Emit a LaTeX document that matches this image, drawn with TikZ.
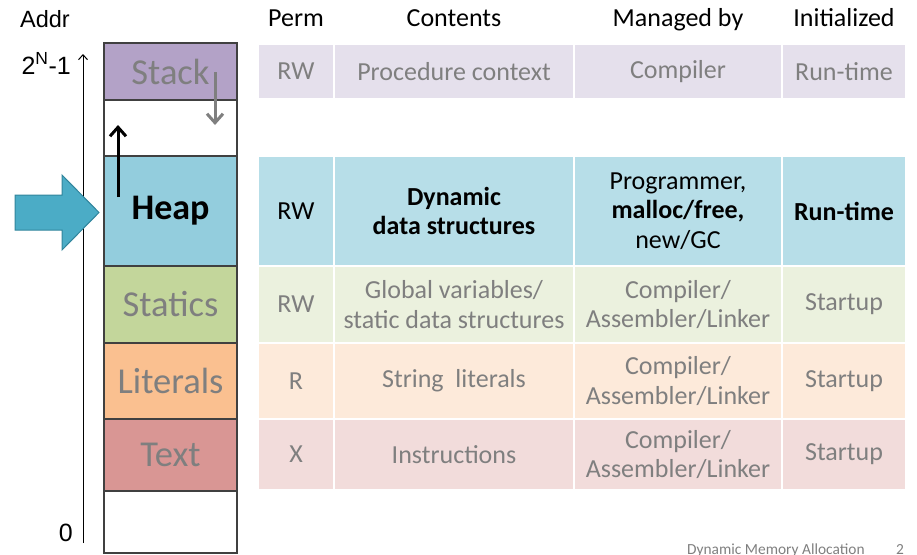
\documentclass[tikz,border=0pt]{standalone}
\usepackage{fontspec}
\setmainfont{Carlito}
\newfontfamily\arialf{Liberation Sans}
\usetikzlibrary{arrows.meta}
\definecolor{stackB}{HTML}{B3A2C7}
\definecolor{stackR}{HTML}{E5E0EC}
\definecolor{heapB}{HTML}{93CDDD}
\definecolor{heapR}{HTML}{B7DEE8}
\definecolor{statB}{HTML}{C3D69B}
\definecolor{statR}{HTML}{EBF1DE}
\definecolor{litB}{HTML}{FAC090}
\definecolor{litR}{HTML}{FDEADA}
\definecolor{textB}{HTML}{D99694}
\definecolor{textR}{HTML}{F2DCDB}
\definecolor{fade}{HTML}{7F7F7F}
\definecolor{bigarrow}{HTML}{4BACC6}
\definecolor{bigarrowD}{HTML}{31859C}
\definecolor{blockline}{HTML}{404040}
\tikzset{
  memblock/.style={draw=blockline, line width=1.5pt, minimum width=133pt, inner sep=0pt, anchor=center, text=fade, font=\fontsize{36.5}{40}\selectfont},
  cell/.style={draw=white, line width=2pt, inner sep=0pt, anchor=center, align=center, text=fade, font=\fontsize{26}{29.5}\selectfont},
  hdr/.style={anchor=base, inner sep=0pt, font=\fontsize{26}{29}\selectfont},
  axislbl/.style={inner sep=0pt, font=\arialf\fontsize{25}{30}\selectfont},
  growarrow/.style={line width=3pt, -{Straight Barb[length=9pt,width=16pt]}},
}
\begin{document}
\begin{tikzpicture}[x=1pt,y=-1pt]
\useasboundingbox (0,0) rectangle (917,554);
\clip (0,0) rectangle (917,554);
% headers
\node[axislbl, anchor=base, font=\arialf\fontsize{23.5}{27}\selectfont] (haddr) at (45,27.5) {Addr};
\node[hdr] (hperm) at (296,27) {Perm};
\node[hdr] (hcont) at (454,27) {Contents};
\node[hdr] (hman) at (678,27) {Managed by};
\node[hdr] (hinit) at (844,27) {Initialized};
% memory column
\node[memblock, fill=stackB, minimum height=57pt] (mstack) at (170.5,71.5) {Stack};
\node[memblock, fill=white, minimum height=56pt] (mgap) at (170.5,128) {};
\node[memblock, fill=heapB, minimum height=110pt, text=black, font=\bfseries\fontsize{36}{40}\selectfont] (mheap) at (170.5,211) {Heap};
\node[memblock, fill=statB, minimum height=77pt] (mstat) at (170.5,304.5) {Statics};
\node[memblock, fill=litB, minimum height=76pt] (mlit) at (170.5,381) {Literals};
\node[memblock, fill=textB, minimum height=72pt] (mtext) at (170.5,455) {Text};
\node[memblock, fill=white, minimum height=62pt] (mbot) at (170.5,522) {};
% growth arrows
\coordinate (sg0) at (215,72);
\coordinate (sg1) at (215,125);
\draw[growarrow, draw=fade] (sg0) -- (sg1);
\coordinate (hg0) at (118,197);
\coordinate (hg1) at (118,125);
\draw[growarrow, draw=black] (hg0) -- (hg1);
% address axis
\coordinate (ax0) at (83,543);
\coordinate (ax1) at (83,54);
\draw[line width=1pt, -{Straight Barb[length=5pt,width=9pt]}] (ax0) -- (ax1);
\node[axislbl, anchor=base east] (ltop) at (71,74) {2\textsuperscript{N}-1};
\node[axislbl, anchor=base east] (lzero) at (73,541) {0};
% big arrow
\draw[fill=bigarrow, draw=bigarrowD, line width=1pt, line join=miter]
  (15,195) -- (62,195) -- (62,175) -- (99,212.5) -- (62,250) -- (62,230) -- (15,230) -- cycle;
% table: stack row
\node[cell, fill=stackR, minimum width=76pt, minimum height=55pt] (s1) at (296,71.5) {RW};
\node[cell, fill=stackR, minimum width=240pt, minimum height=55pt] (s2) at (454,71.5) {Procedure context};
\node[cell, fill=stackR, minimum width=208pt, minimum height=55pt] (s3) at (678,71.5) {Compiler};
\node[cell, fill=stackR, minimum width=124pt, minimum height=55pt] (s4) at (844,71.5) {Run-time};
% heap row
\node[cell, fill=heapR, text=black, minimum width=76pt, minimum height=110pt] (h1) at (296,211) {RW};
\node[cell, fill=heapR, text=black, minimum width=240pt, minimum height=110pt, font=\bfseries\fontsize{26}{29.5}\selectfont] (h2) at (454,211) {Dynamic\\data structures};
\node[cell, fill=heapR, text=black, minimum width=208pt, minimum height=110pt] (h3) at (678,211) {Programmer,\\\textbf{malloc/free,}\\new/GC};
\node[cell, fill=heapR, text=black, minimum width=124pt, minimum height=110pt, font=\bfseries\fontsize{26}{29.5}\selectfont] (h4) at (844,211) {Run-time};
% statics row
\node[cell, fill=statR, minimum width=76pt, minimum height=77pt] (t1) at (296,304.5) {RW};
\node[cell, fill=statR, minimum width=240pt, minimum height=77pt] (t2) at (454,304.5) {Global variables/\\static data structures};
\node[cell, fill=statR, minimum width=208pt, minimum height=77pt] (t3) at (678,304.5) {Compiler/\\Assembler/Linker};
\node[cell, fill=statR, minimum width=124pt, minimum height=77pt] (t4) at (844,304.5) {Startup};
% literals row
\node[cell, fill=litR, minimum width=76pt, minimum height=76pt] (l1) at (296,381) {R};
\node[cell, fill=litR, minimum width=240pt, minimum height=76pt] (l2) at (454,381) {String\ \ literals};
\node[cell, fill=litR, minimum width=208pt, minimum height=76pt] (l3) at (678,381) {Compiler/\\Assembler/Linker};
\node[cell, fill=litR, minimum width=124pt, minimum height=76pt] (l4) at (844,381) {Startup};
% text row
\node[cell, fill=textR, minimum width=76pt, minimum height=71pt] (x1) at (296,454.5) {X};
\node[cell, fill=textR, minimum width=240pt, minimum height=71pt] (x2) at (454,454.5) {Instructions};
\node[cell, fill=textR, minimum width=208pt, minimum height=71pt] (x3) at (678,454.5) {Compiler/\\Assembler/Linker};
\node[cell, fill=textR, minimum width=124pt, minimum height=71pt] (x4) at (844,454.5) {Startup};
% footer
\node[anchor=base west, inner sep=0pt, text=fade, font=\fontsize{15.4}{18}\selectfont] (foot) at (687,554) {Dynamic Memory Allocation};
\node[anchor=base, inner sep=0pt, text=fade, font=\fontsize{15.4}{18}\selectfont] (pg) at (900,554) {2};
\end{tikzpicture}
\end{document}
